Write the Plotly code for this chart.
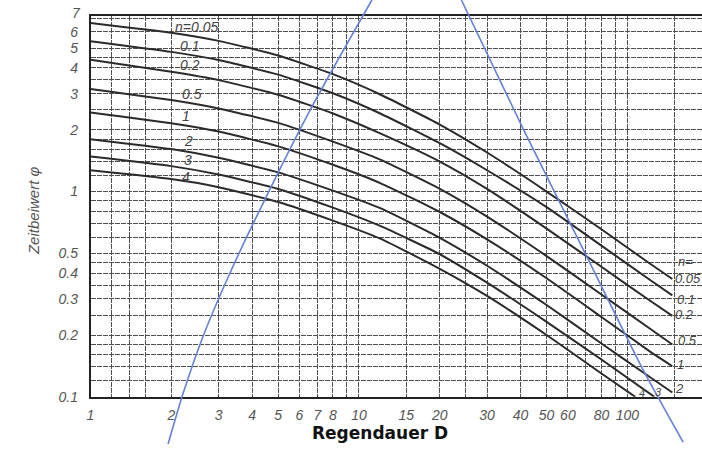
import numpy as np
import plotly.graph_objects as go

# ---------------- data ----------------
# Regendauer D (min)
D_main = [1, 2, 3, 5, 8, 12, 20, 30, 50, 80, 120, 147]
D_n3 = [1, 2, 3, 5, 8, 12, 20, 30, 50, 80, 126]
D_n4 = [1, 2, 3, 5, 8, 12, 20, 30, 50, 80, 107]

# Zeitbeiwert phi for each frequency n
phi_n005 = [6.63, 5.94, 5.42, 4.60, 3.73, 2.97, 2.12, 1.55, 1.00, 0.655, 0.450, 0.375]
phi_n01 = [5.40, 4.79, 4.37, 3.71, 3.01, 2.40, 1.72, 1.27, 0.84, 0.545, 0.375, 0.312]
phi_n02 = [4.38, 3.83, 3.49, 2.96, 2.40, 1.92, 1.40, 1.03, 0.66, 0.430, 0.297, 0.248]
phi_n05 = [3.16, 2.79, 2.54, 2.16, 1.75, 1.43, 1.03, 0.755, 0.485, 0.315, 0.217, 0.180]
phi_n1 = [2.43, 2.15, 1.96, 1.66, 1.35, 1.10, 0.795, 0.585, 0.378, 0.245, 0.168, 0.141]
phi_n2 = [1.80, 1.61, 1.46, 1.24, 1.01, 0.83, 0.595, 0.435, 0.280, 0.182, 0.126, 0.105]
phi_n3 = [1.48, 1.33, 1.21, 1.03, 0.835, 0.68, 0.495, 0.36, 0.232, 0.152, 0.100]
phi_n4 = [1.27, 1.15, 1.05, 0.890, 0.722, 0.59, 0.42, 0.31, 0.20, 0.130, 0.100]

# curve labels (left) and their anchor points (D, phi)
left_labels = ["n=0.05", "0.1", "0.2", "0.5", "1", "2", "3", "4"]
left_lab_D = [2.49, 2.34, 2.34, 2.39, 2.27, 2.31, 2.31, 2.27]
left_lab_phi = [6.36, 5.11, 4.14, 2.98, 2.34, 1.77, 1.42, 1.18]

# curve labels (right edge)
right_labels = ["n=", "0.05", "0.1", "0.2", "0.5", "1", "2"]
right_lab_D = [152, 148, 150.5, 148, 152, 150.5, 148]
right_lab_phi = [0.455, 0.376, 0.298, 0.252, 0.1874, 0.144, 0.1104]

# end marks of curves n=3 and n=4
end_labels = ["4", "3"]
end_lab_D = [113, 131]
end_lab_phi = [0.104, 0.106]

# blue hand-drawn lines (D, phi)
blue_left_D = [1.945, 2.210, 2.621, 3.245, 4.372, 6.697, 11.17]
blue_left_phi = [0.0589, 0.1034, 0.1958, 0.3793, 0.8665, 2.608, 8.57]
blue_right_D = [24.07, 41.19, 71.1, 114.7, 161.2]
blue_right_phi = [8.57, 1.980, 0.4727, 0.1346, 0.0602]

# grid / tick values
x_grid = [1, 1.2, 1.4, 1.6, 2, 3, 4, 5, 6, 7, 8, 9, 10, 15, 20, 25, 30, 40, 50,
          60, 70, 80, 90, 100, 150]
x_labeled = [1, 2, 3, 4, 5, 6, 7, 8, 10, 15, 20, 30, 40, 50, 60, 80, 100]
y_grid = [0.1, 0.12, 0.14, 0.16, 0.18, 0.2, 0.25, 0.3, 0.35, 0.4, 0.45, 0.5, 0.6,
          0.7, 0.8, 0.9, 1, 1.2, 1.4, 1.6, 1.8, 2, 2.5, 3, 3.5, 4, 4.5, 5, 6, 7]
y_labeled = [0.1, 0.2, 0.3, 0.4, 0.5, 1, 2, 3, 4, 5, 6]
y_top_label = "7"        # drawn at the very top, just above its grid line

# ---------------- figure ----------------
W, H = 702, 452
fig = go.Figure()

curve_color = "#2b2b2b"
series = [
    (D_main, phi_n005), (D_main, phi_n01), (D_main, phi_n02), (D_main, phi_n05),
    (D_main, phi_n1), (D_main, phi_n2), (D_n3, phi_n3), (D_n4, phi_n4),
]
for xs, ys in series:
    fig.add_trace(go.Scatter(
        x=xs, y=ys, mode="lines", xaxis="x", yaxis="y",
        line=dict(color=curve_color, width=2, shape="spline", smoothing=0.5),
        showlegend=False, hoverinfo="skip"))

blue = "#6482d6"
for xs, ys in [(blue_left_D, blue_left_phi), (blue_right_D, blue_right_phi)]:
    fig.add_trace(go.Scatter(
        x=xs, y=ys, mode="lines", xaxis="x2", yaxis="y2",
        line=dict(color=blue, width=1.6, shape="spline", smoothing=0.6),
        showlegend=False, hoverinfo="skip"))

x_text = [("%g" % v) if v in x_labeled else "" for v in x_grid]
y_text = [("%g" % v) if v in y_labeled else "" for v in y_grid]

x_tick_font = dict(family="Liberation Sans", size=14, color="#555555", style="italic")
y_tick_font = dict(family="Liberation Sans", size=14, color="#555555", style="italic")
grid_col = "#4f4f4f"

fig.update_layout(
    width=W, height=H,
    margin=dict(l=0, r=0, t=0, b=0),
    paper_bgcolor="white", plot_bgcolor="rgba(0,0,0,0)",
    xaxis=dict(
        type="log", domain=[87 / W, 1.0], range=[0, 615 / 270], autorange=False,
        tickmode="array", tickvals=x_grid, ticktext=x_text,
        tickfont=x_tick_font, ticks="", ticklabelstandoff=5,
        showgrid=True, gridcolor=grid_col, gridwidth=1, griddash="5px,1px",
        showline=True, linecolor="#222222", linewidth=1.5, mirror=True,
        zeroline=False, anchor="y", fixedrange=True),
    yaxis=dict(
        type="log", domain=[48 / H, 436 / H], range=[-1, 179 / 209], autorange=False,
        tickmode="array", tickvals=y_grid, ticktext=y_text,
        tickfont=y_tick_font, ticks="", ticklabelstandoff=8,
        showgrid=True, gridcolor=grid_col, gridwidth=1, griddash="5px,1px",
        showline=True, linecolor="#222222", linewidth=1.5,
        zeroline=False, anchor="x", fixedrange=True),
    xaxis2=dict(type="log", domain=[0, 1], range=[-87 / 270, 615 / 270],
                autorange=False, visible=False, anchor="y2", fixedrange=True),
    yaxis2=dict(type="log", domain=[0, 1], range=[-257 / 209, 195 / 209],
                autorange=False, visible=False, anchor="x2", fixedrange=True),
)

lab_font = dict(family="Liberation Sans", size=14, color="#444444", style="italic")
right_font = dict(family="Liberation Sans", size=13, color="#444444", style="italic")
annotations = []
for t, d, p in zip(left_labels, left_lab_D, left_lab_phi):
    annotations.append(dict(x=np.log10(d), y=np.log10(p), xref="x", yref="y",
                            text=t, showarrow=False, font=lab_font,
                            xanchor="center", yanchor="middle"))
for t, d, p in zip(right_labels, right_lab_D, right_lab_phi):
    annotations.append(dict(x=np.log10(d), y=np.log10(p), xref="x", yref="y",
                            text=t, showarrow=False, font=right_font,
                            xanchor="left", yanchor="middle"))
for t, d, p in zip(end_labels, end_lab_D, end_lab_phi):
    annotations.append(dict(x=np.log10(d), y=np.log10(p), xref="x", yref="y",
                            text=t, showarrow=False,
                            font=dict(family="Liberation Sans", size=11,
                                      color="#444444", style="italic"),
                            xanchor="center", yanchor="middle"))

# top y label "7" (sits just above the top border in the reference)
annotations.append(dict(x=79 / W, y=1 - 13 / H, xref="paper", yref="paper",
                        text=y_top_label, showarrow=False, font=y_tick_font,
                        xanchor="right", yanchor="middle"))

annotations.append(dict(x=378 / W, y=1 - 441 / H, xref="paper", yref="paper",
                        text="Regendauer D", showarrow=False,
                        font=dict(family="DejaVu Sans", size=17, color="#111111",
                                  weight="bold"),
                        xanchor="center", yanchor="middle"))
annotations.append(dict(x=29 / W, y=1 - 214 / H, xref="paper", yref="paper",
                        text="Zeitbeiwert φ", showarrow=False, textangle=-90,
                        font=dict(family="Liberation Sans", size=15, color="#555555",
                                  style="italic"),
                        xanchor="center", yanchor="middle"))
fig.update_layout(annotations=annotations)

fig.write_html("out.html")
